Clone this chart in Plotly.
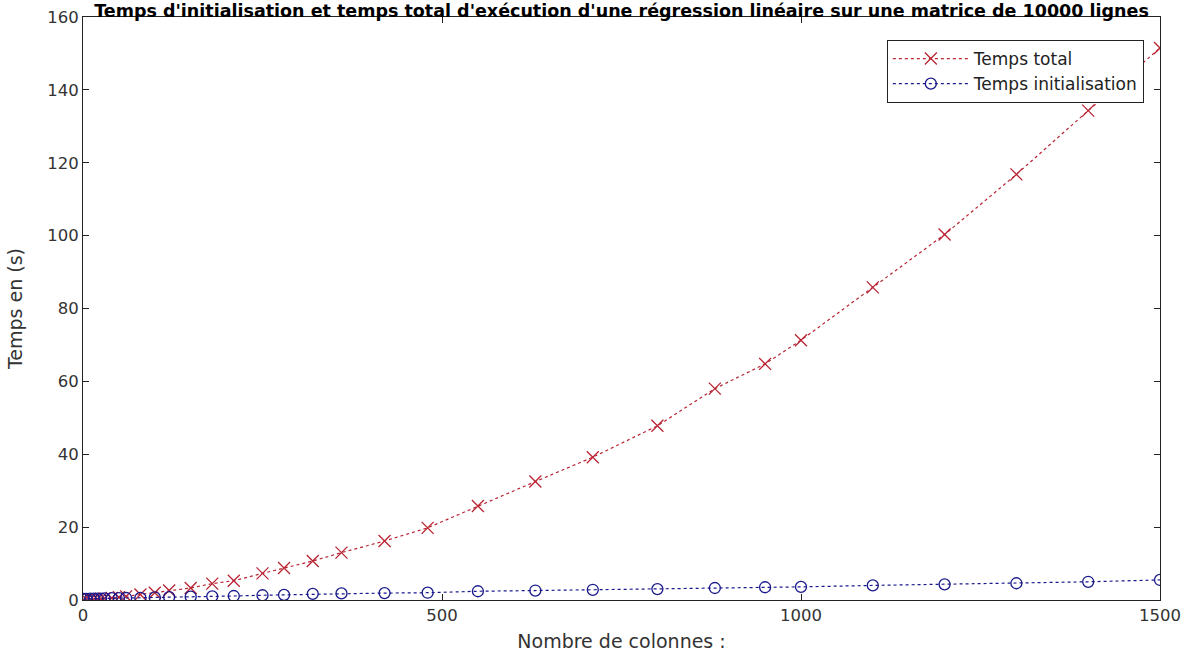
import plotly.graph_objects as go

# Number of columns
colonnes = [1, 5, 10, 15, 20, 25, 30, 40, 50, 60, 80, 100, 120, 150, 180, 210, 250, 280, 320,
            360, 420, 480, 550, 630, 710, 800, 880, 950, 1000, 1100, 1200, 1300, 1400, 1500]

# Total execution time (s)
temps_total = [0.02, 0.06, 0.12, 0.18, 0.25, 0.32, 0.4, 0.55, 0.75, 1.0, 1.5, 2.0, 2.6, 3.3,
               4.5, 5.3, 7.3, 8.8, 10.7, 13.0, 16.2, 19.8, 25.8, 32.5, 39.2, 47.8, 58.0,
               64.8, 71.3, 85.8, 100.3, 116.8, 134.3, 151.5]

# Initialisation time (s)
temps_init = [0.3, 0.3, 0.35, 0.35, 0.4, 0.4, 0.45, 0.5, 0.5, 0.55, 0.6, 0.7, 0.8, 0.9, 1.0,
              1.1, 1.3, 1.4, 1.7, 1.8, 1.9, 2.0, 2.4, 2.6, 2.8, 3.0, 3.3, 3.5, 3.6, 4.0,
              4.3, 4.6, 5.0, 5.5]

x_ticks = [0, 500, 1000, 1500]
y_ticks = [0, 20, 40, 60, 80, 100, 120, 140, 160]

titre = ("Temps d'initialisation et temps total d'exécution d'une régression linéaire "
         "sur une matrice de 10000 lignes")

red = "rgb(185,35,50)"
blue = "rgb(25,25,140)"
font = "DejaVu Sans"

fig = go.Figure()
fig.add_trace(go.Scatter(
    x=colonnes, y=temps_total, name="Temps total", mode="lines+markers",
    legendgroup="a",
    line=dict(color=red, width=1.2, dash="dot"),
    marker=dict(symbol="x-thin-open", size=12, line=dict(color=red, width=1.3)),
))
fig.add_trace(go.Scatter(
    x=colonnes, y=temps_init, name="Temps initialisation", mode="lines+markers",
    legendgroup="b",
    line=dict(color=blue, width=1.2, dash="dot"),
    marker=dict(symbol="circle-open", size=11, color=blue, line=dict(color=blue, width=1.3)),
))

axis_common = dict(
    showgrid=False, zeroline=False, showline=True, linecolor="#222", linewidth=1,
    mirror="ticks", ticks="inside", ticklen=6, tickcolor="#222", automargin=False,
    tickfont=dict(family=font, size=16.5, color="#333"),
)

fig.update_layout(
    width=1188, height=666,
    margin=dict(l=83, r=28, t=17, b=66),
    paper_bgcolor="white", plot_bgcolor="white",
    title=dict(text=titre, x=0.5, xref="paper", xanchor="center",
               y=1 - 11 / 666, yref="container", yanchor="middle",
               font=dict(family=font, size=17.5, color="black", weight="bold")),
    xaxis=dict(range=[0, 1500], tickvals=x_ticks, **axis_common,
               title=dict(text="Nombre de colonnes :", standoff=10,
                          font=dict(family=font, size=19, color="#333"))),
    yaxis=dict(range=[0, 160], tickvals=y_ticks, **axis_common,
               title=dict(text="Temps en (s)", standoff=19,
                          font=dict(family=font, size=19, color="#333"))),
    legend=dict(x=0.985, y=0.9605, xanchor="right", yanchor="top",
                bgcolor="white", bordercolor="#222", borderwidth=1,
                font=dict(family=font, size=17, color="#222"),
                tracegroupgap=0, itemwidth=76),
    showlegend=True,
)

fig.write_html("out.html", post_script="document.body.style.margin='0';",
               config={"displayModeBar": False})
